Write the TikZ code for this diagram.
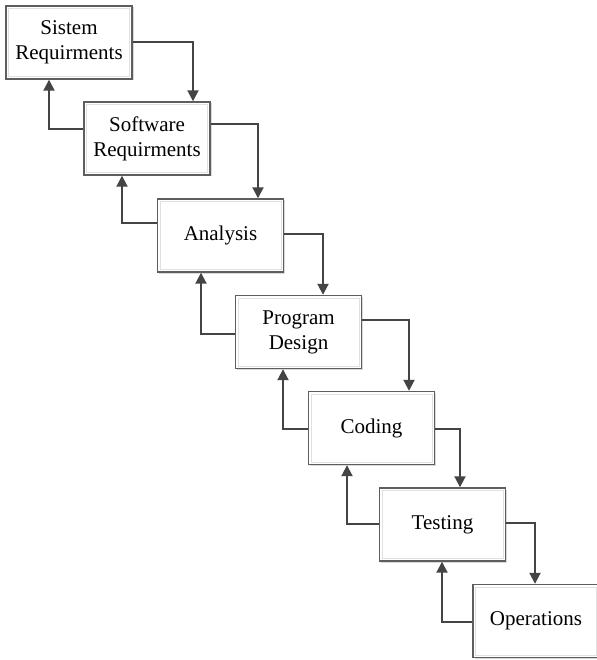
\documentclass[tikz,border=0pt]{standalone}
\usepackage{fontspec}
\setmainfont{Liberation Serif}
\usetikzlibrary{arrows.meta,shadows}
\definecolor{arrc}{HTML}{444444}
\definecolor{boxc}{HTML}{5E5E5E}
\begin{document}
\begin{tikzpicture}[x=1pt,y=-1pt,
  stage/.style={draw=boxc, line width=1.4pt, fill=white,
    minimum width=126pt, minimum height=73pt, inner sep=0pt, align=center,
    font=\fontsize{21}{25}\selectfont,
    drop shadow={shadow xshift=1.5pt, shadow yshift=-1.5pt, fill=black!15, opacity=1},
    path picture={\draw[black!12, line width=0.8pt]
      ([shift={(2.5pt,2.5pt)}]path picture bounding box.south west) rectangle
      ([shift={(-2.5pt,-2.5pt)}]path picture bounding box.north east);}},
  arr/.style={draw=arrc, line width=2pt, -{Triangle[length=11pt,width=11pt]}}]
\useasboundingbox (0,0) rectangle (596,660);
\fill[white] (0,0) rectangle (596,660);

\node[stage] (b1) at (69,42.5) {Sistem\\Requirments};
\node[stage] (b2) at (147,138.5) {Software\\Requirments};
\node[stage] (b3) at (220.5,235.5) {Analysis};
\node[stage] (b4) at (298.5,332) {Program\\Design};
\node[stage] (b5) at (371.5,428) {Coding};
\node[stage] (b6) at (442.5,524.5) {Testing};
\node[stage] (b7) at (536,621) {Operations};

% forward arrows
\draw[arr] (b1.east |- 0,42)  -| (b2.north -| 193,0);
\draw[arr] (b2.east |- 0,124) -| (b3.north -| 258,0);
\draw[arr] (b3.east |- 0,234) -| (b4.north -| 323,0);
\draw[arr] (b4.east |- 0,320) -| (b5.north -| 409,0);
\draw[arr] (b5.east |- 0,429) -| (b6.north -| 460,0);
\draw[arr] (b6.east |- 0,523) -| (b7.north -| 535,0);

% feedback arrows
\draw[arr] (b2.west |- 0,129) -| (b1.south -| 49,0);
\draw[arr] (b3.west |- 0,223) -| (b2.south -| 122,0);
\draw[arr] (b4.west |- 0,334) -| (b3.south -| 201,0);
\draw[arr] (b5.west |- 0,429) -| (b4.south -| 283,0);
\draw[arr] (b6.west |- 0,524) -| (b5.south -| 347,0);
\draw[arr] (b7.west |- 0,622) -| (b6.south -| 442,0);
\end{tikzpicture}
\end{document}
